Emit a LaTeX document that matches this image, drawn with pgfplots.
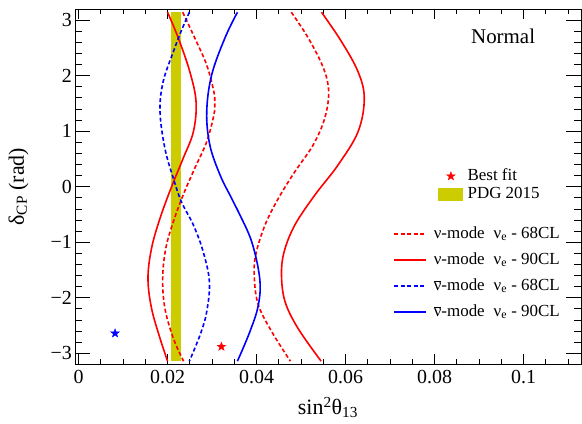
\documentclass[border=0pt]{standalone}
\usepackage{pgfplots}
\pgfplotsset{compat=1.18}
\usepackage{fontspec}
\setmainfont{Liberation Serif}
\usetikzlibrary{calc}

\definecolor{pdgband}{RGB}{204,204,0}

% filled five-point star (ROOT marker 29)
\pgfdeclareplotmark{fstar}{%
  \pgfpathmoveto{\pgfpointpolar{90}{\pgfplotmarksize}}%
  \pgfpathlineto{\pgfpointpolar{126}{0.4\pgfplotmarksize}}%
  \pgfpathlineto{\pgfpointpolar{162}{\pgfplotmarksize}}%
  \pgfpathlineto{\pgfpointpolar{198}{0.4\pgfplotmarksize}}%
  \pgfpathlineto{\pgfpointpolar{234}{\pgfplotmarksize}}%
  \pgfpathlineto{\pgfpointpolar{270}{0.4\pgfplotmarksize}}%
  \pgfpathlineto{\pgfpointpolar{306}{\pgfplotmarksize}}%
  \pgfpathlineto{\pgfpointpolar{342}{0.4\pgfplotmarksize}}%
  \pgfpathlineto{\pgfpointpolar{18}{\pgfplotmarksize}}%
  \pgfpathlineto{\pgfpointpolar{54}{0.4\pgfplotmarksize}}%
  \pgfpathclose
  \pgfusepathqfillstroke
}

\newcommand{\tickfont}{\fontsize{20}{24}\selectfont}
\newcommand{\titlefont}{\fontsize{22}{26}\selectfont}
\newcommand{\legfont}{\fontsize{17}{20}\selectfont}
\newcommand{\nubar}{$\overline{\mbox{ν}}$}

\pgfplotsset{
  frame/.style={
    scale only axis, width=506bp, height=355.4bp,
    xmin=-0.0008, xmax=0.1129, ymin=-3.2, ymax=3.2,
  },
  contour/.style={smooth, tension=0.6, line width=1.6bp},
  dashedc/.style={contour, dash pattern=on 4bp off 2.5bp},
  starleg/.style={legend image code/.code={\path (0bp,0bp) (25bp,0bp);
    \draw[red, fill=red, mark size=4.5bp] plot[only marks, mark=fstar] coordinates {(12.5bp,0bp)};}},
  bandleg/.style={legend image code/.code={\fill[pdgband] (0bp,-6.5bp) rectangle (25bp,6.5bp);}},
  lineleg/.style={legend image code/.code={\draw[##1] (0bp,0bp) -- (32bp,0bp);}},
}

\begin{document}
\begin{tikzpicture}
\begin{axis}[
  frame,
  axis line style={line width=0.9bp},
  tick align=inside,
  xtick={0,0.02,0.04,0.06,0.08,0.1},
  xticklabels={0,0.02,0.04,0.06,0.08,0.1},
  minor xtick={0.005,0.01,0.015,0.025,0.03,0.035,0.045,0.05,0.055,0.065,0.07,0.075,0.085,0.09,0.095,0.105,0.11},
  ytick={-3,-2,-1,0,1,2,3},
  yticklabels={−3,−2,−1,0,1,2,3},
  minor ytick={-2.8,-2.6,-2.4,-2.2,-1.8,-1.6,-1.4,-1.2,-0.8,-0.6,-0.4,-0.2,0.2,0.4,0.6,0.8,1.2,1.4,1.6,1.8,2.2,2.4,2.6,2.8},
  every tick/.append style={black, line width=0.8bp},
  every major x tick/.append style={/pgfplots/major tick length=10bp},
  every minor x tick/.append style={/pgfplots/minor tick length=5bp},
  every major y tick/.append style={/pgfplots/major tick length=15bp},
  every minor y tick/.append style={/pgfplots/minor tick length=7.5bp},
  xticklabel style={font=\tickfont, inner sep=0pt, yshift=-5.5bp},
  yticklabel style={font=\tickfont, inner sep=0pt, xshift=-3bp},
  xlabel={sin\textsuperscript{2}θ\textsubscript{13}},
  xlabel style={font=\titlefont, at={(axis description cs:0.5,-0.142)}, anchor=base},
  ylabel={δ\textsubscript{CP} (rad)},
  ylabel style={font=\titlefont, at={(axis description cs:-0.101,0.5)}, anchor=base},
  legend cell align=left,
  legend style={draw=none, fill=none, inner sep=0pt, font=\legfont,
    at={(rel axis cs:0.7174,0.5526)}, anchor=north west,
    row sep=2bp, column sep=4bp,
    nodes={inner sep=0pt, text height=12bp, text depth=4bp}},
]
\coordinate (ll) at (rel axis cs:0,0);
\coordinate (ur) at (rel axis cs:1,1);

% best fit points
\addplot[only marks, mark=fstar, mark size=4.5bp, draw=red, fill=red, starleg]
  coordinates {(0.0321,-2.88)};
\addlegendentry{Best fit}
\addplot[only marks, mark=fstar, mark size=4.5bp, draw=blue, fill=blue, forget plot]
  coordinates {(0.0082,-2.64)};

% PDG 2015 band
\addplot[draw=none, fill=pdgband, bandleg]
  coordinates {(0.0207,-3.1416) (0.0231,-3.1416) (0.0231,3.1416) (0.0207,3.1416)} -- cycle;
\addlegendentry{PDG 2015}

\node[font=\fontsize{21}{25}\selectfont] at (axis cs:0.0954,2.70) {Normal};
\end{axis}

\begin{axis}[
  frame,
  hide axis,
  legend cell align=left,
  legend style={draw=none, fill=none, inner sep=0pt, font=\legfont,
    at={(rel axis cs:0.6285,0.3922)}, anchor=north west,
    row sep=8bp, column sep=7bp,
    nodes={inner sep=0pt, text height=13bp, text depth=5bp}},
]
% nu-mode 68CL
\addplot[dashedc, red, lineleg] coordinates {
  (0.0234,3.1416) (0.0261,2.68) (0.0288,2.19) (0.0304,1.71) (0.0306,1.50) (0.0304,1.29)
  (0.0288,0.81) (0.0261,0.33) (0.0235,-0.15) (0.0213,-0.63) (0.0196,-1.11)
  (0.0189,-1.65) (0.0194,-2.19) (0.0213,-2.73) (0.0236,-3.1416)};
\addlegendentry{ν-mode\; ν\textsubscript{e} - 68CL}
\addplot[dashedc, red, forget plot] coordinates {
  (0.0478,3.1416) (0.0516,2.68) (0.0550,2.14) (0.0562,1.71) (0.0553,1.23)
  (0.0527,0.75) (0.0486,0.27) (0.0449,-0.21) (0.0419,-0.69) (0.0398,-1.23)
  (0.0395,-1.65) (0.0404,-2.13) (0.0434,-2.61) (0.0476,-3.1416)};

% nu-mode 90CL
\addplot[contour, red, lineleg] coordinates {
  (0.0200,3.1416) (0.0224,2.68) (0.0250,2.07) (0.0264,1.53) (0.0258,0.99)
  (0.0235,0.51) (0.0209,0.00) (0.0183,-0.57) (0.0164,-1.11) (0.0156,-1.65)
  (0.0164,-2.19) (0.0183,-2.73) (0.0200,-3.1416)};
\addlegendentry{ν-mode\; ν\textsubscript{e} - 90CL}
\addplot[contour, red, forget plot] coordinates {
  (0.0546,3.1416) (0.0591,2.61) (0.0628,2.07) (0.0642,1.59) (0.0628,0.99)
  (0.0583,0.39) (0.0531,-0.15) (0.0486,-0.69) (0.0462,-1.17) (0.0456,-1.59)
  (0.0464,-2.07) (0.0493,-2.55) (0.0545,-3.1416)};

% antinu-mode 68CL
\addplot[dashedc, blue, lineleg] coordinates {
  (0.0249,3.1416) (0.0230,2.79) (0.0213,2.43) (0.0190,1.89) (0.0183,1.35)
  (0.0194,0.69) (0.0213,0.15) (0.0231,-0.27) (0.0258,-0.69) (0.0280,-1.17)
  (0.0294,-1.71) (0.0288,-2.25) (0.0273,-2.67) (0.0249,-3.1416)};
\addlegendentry{\nubar-mode\; ν\textsubscript{e} - 68CL}

% antinu-mode 90CL
\addplot[contour, blue, lineleg] coordinates {
  (0.0357,3.1416) (0.0329,2.68) (0.0299,2.01) (0.0288,1.35) (0.0295,0.75)
  (0.0318,0.21) (0.0344,-0.21) (0.0359,-0.45) (0.0389,-0.99) (0.0407,-1.65)
  (0.0404,-2.13) (0.0385,-2.61) (0.0357,-3.1416)};
\addlegendentry{\nubar-mode\; ν\textsubscript{e} - 90CL}
\end{axis}

\pgfresetboundingbox
\path[use as bounding box] ($(ll)+(-75bp,-59.6bp)$) rectangle ($(ur)+(1bp,9bp)$);
\end{tikzpicture}
\end{document}
